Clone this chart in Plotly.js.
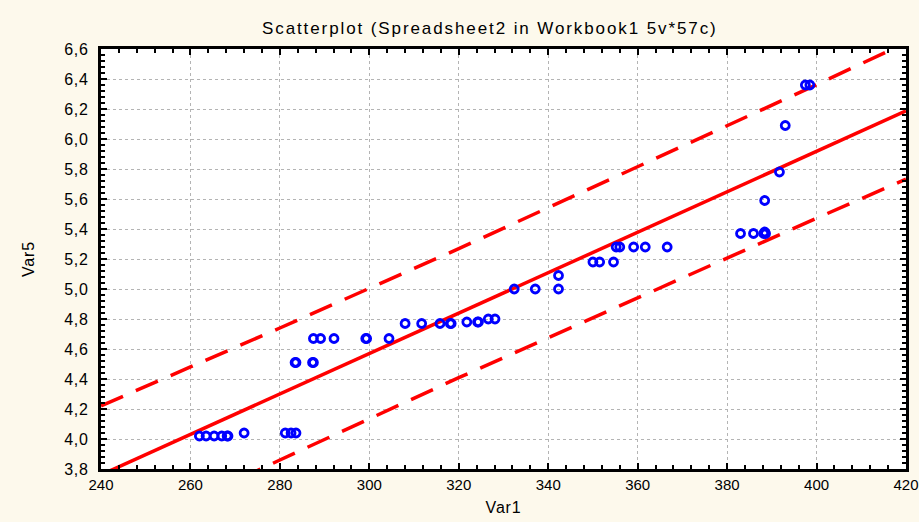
<!DOCTYPE html>
<html>
<head>
<meta charset="utf-8">
<script src="https://cdn.plot.ly/plotly-3.0.1.min.js"></script>
<style>
html,body{margin:0;padding:0;background:#ffffff;}
#chart{position:absolute;left:0;top:0;width:919px;height:522px;}
#chart .gtitle{letter-spacing:1.9px;}
#chart .ytick text{letter-spacing:0.8px;}
#chart .xtitle, #chart .ytitle{letter-spacing:0.8px;}
</style>
</head>
<body>
<div id="chart"></div>
<script>
// Scatter data (Var1, Var5)
const var1 = [262, 263.5, 265.3, 267, 268.2, 268.4, 272, 281.2, 282.5, 283.6,
  283.4, 283.6, 287.3, 287.5,
  287.5, 289.1, 292.1, 299.2, 299.4, 304.4,
  308, 311.7, 315.8, 318.1, 318.3,
  321.8, 324.2, 324.4, 326.6, 328.1,
  332.4, 337.1, 342.3, 342.3,
  350, 351.5, 354.6,
  355.2, 356, 359.1, 361.7, 366.6,
  383, 385.9, 388.2, 388.4, 388.6, 388.4, 391.7, 393, 397.5, 398.5];
const var5 = [4.02, 4.02, 4.02, 4.02, 4.02, 4.02, 4.04, 4.04, 4.04, 4.04,
  4.51, 4.51, 4.51, 4.51,
  4.67, 4.67, 4.67, 4.67, 4.67, 4.67,
  4.77, 4.77, 4.77, 4.77, 4.77,
  4.78, 4.78, 4.78, 4.8, 4.8,
  5.0, 5.0, 5.0, 5.09,
  5.18, 5.18, 5.18,
  5.28, 5.28, 5.28, 5.28, 5.28,
  5.37, 5.37, 5.37, 5.38, 5.37, 5.59, 5.78, 6.09, 6.36, 6.36];

// Regression line
const fitX = [240, 420];
const fitY = [3.761, 6.187];

// 95% prediction band
const bandX = [240, 280, 320, 360, 400, 420];
const bandUpper = [4.221, 4.740, 5.269, 5.813, 6.362, 6.642];
const bandLower = [3.301, 3.860, 4.409, 4.943, 5.472, 5.732];

const xTicks = [240, 260, 280, 300, 320, 340, 360, 380, 400, 420];
const yTicks = [3.8, 4.0, 4.2, 4.4, 4.6, 4.8, 5.0, 5.2, 5.4, 5.6, 5.8, 6.0, 6.2, 6.4, 6.6];

const red = '#ff0000';
const traces = [
  {x: bandX, y: bandUpper, mode: 'lines', line: {color: red, width: 3.5, dash: '24px,14px'}, hoverinfo: 'skip'},
  {x: bandX, y: bandLower, mode: 'lines', line: {color: red, width: 3.5, dash: '24px,14px'}, hoverinfo: 'skip'},
  {x: fitX, y: fitY, mode: 'lines', line: {color: red, width: 3.5}, hoverinfo: 'skip'},
  {x: var1, y: var5, mode: 'markers', marker: {symbol: 'circle-open', size: 8, color: '#0000ff', line: {width: 2.8, color: '#0000ff'}}}
];

const fam = 'Liberation Sans, Arial, sans-serif';
const axisCommon = {
  showline: true, linecolor: '#000000', linewidth: 3, mirror: 'ticks',
  ticks: 'inside', ticklen: 6, tickwidth: 2, tickcolor: '#000000',
  showgrid: true, gridcolor: '#b4b4b4', griddash: 'dot', gridwidth: 1,
  zeroline: false, ticklabeloverflow: 'allow',
  tickfont: {family: fam, size: 16, color: '#000'}
};

const layout = {
  width: 919, height: 522,
  paper_bgcolor: '#fdf9ec', plot_bgcolor: '#ffffff',
  margin: {l: 101, r: 13, t: 49, b: 53},
  showlegend: false,
  separators: ', ',
  title: {text: 'Scatterplot (Spreadsheet2 in Workbook1 5v*57c)', font: {family: fam, size: 17, color: '#000'}, x: 0.533, xanchor: 'center', y: 0.946, yanchor: 'middle'},
  xaxis: Object.assign({}, axisCommon, {
    range: [240, 420], tickvals: xTicks, ticktext: xTicks.map(String),
    tickfont: {family: fam, size: 15, color: '#000'},
    minor: {dtick: 4, tick0: 240, ticks: 'inside', ticklen: 4, tickwidth: 2, tickcolor: '#000', showgrid: false},
    title: {text: 'Var1', font: {family: fam, size: 16, color: '#000'}, standoff: 10}
  }),
  yaxis: Object.assign({}, axisCommon, {
    range: [3.8, 6.6], tickvals: yTicks, tickformat: '.1f', ticklabelstandoff: 6,
    minor: {dtick: 0.04, tick0: 3.8, ticks: 'inside', ticklen: 4, tickwidth: 2, tickcolor: '#000', showgrid: false},
    title: {text: 'Var5', font: {family: fam, size: 16, color: '#000'}, standoff: 28}
  })
};

Plotly.newPlot('chart', traces, layout, {displayModeBar: false, staticPlot: true});
</script>
</body>
</html>
